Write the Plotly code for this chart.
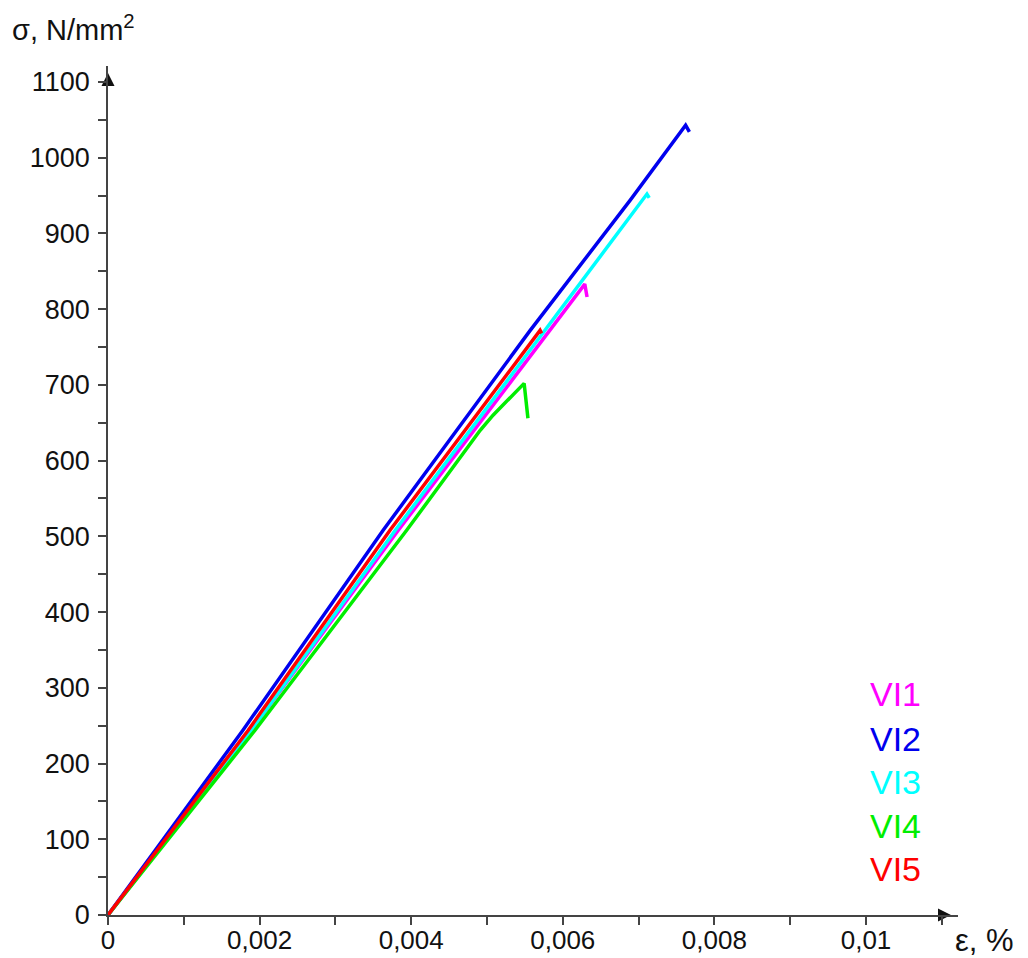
import plotly.graph_objects as go

# ---- data ----
series_names = ["VI1", "VI2", "VI3", "VI4", "VI5"]
series_colors = ["#ff00ff", "#0000ee", "#00ffff", "#00ee00", "#ff0000"]

strain_vi1 = [0, 0.00189, 0.00383, 0.00583, 0.00629, 0.00632]
stress_vi1 = [0, 244, 508, 772, 833, 816]

strain_vi2 = [0, 0.00178, 0.00363, 0.00557, 0.00689, 0.00762, 0.00767]
stress_vi2 = [0, 244, 508, 772, 944, 1043, 1034]

strain_vi3 = [0, 0.00189, 0.00379, 0.00577, 0.00711, 0.00714]
stress_vi3 = [0, 244, 508, 772, 952, 947]

strain_vi4 = [0, 0.00194, 0.00394, 0.00491, 0.00508, 0.00549, 0.00554]
stress_vi4 = [0, 244, 508, 640, 660, 702, 656]

strain_vi5 = [0, 0.00185, 0.00372, 0.00570, 0.00572]
stress_vi5 = [0, 244, 508, 772, 768]

x_tickvals = [0, 0.001, 0.002, 0.003, 0.004, 0.005, 0.006, 0.007, 0.008, 0.009, 0.01, 0.011]
x_ticktext = ["0", "", "0,002", "", "0,004", "", "0,006", "", "0,008", "", "0,01", ""]
y_tickvals = [0, 50, 100, 150, 200, 250, 300, 350, 400, 450, 500, 550, 600, 650,
              700, 750, 800, 850, 900, 950, 1000, 1050, 1100]
y_ticktext = ["0", "", "100", "", "200", "", "300", "", "400", "", "500", "", "600", "",
              "700", "", "800", "", "900", "", "1000", "", "1100"]

x_title = "ε, %"
y_title = "σ, N/mm<sup>2</sup>"

strains = [strain_vi1, strain_vi2, strain_vi3, strain_vi4, strain_vi5]
stresses = [stress_vi1, stress_vi2, stress_vi3, stress_vi4, stress_vi5]

# plot geometry
PLOT_L, PLOT_R, PLOT_T, PLOT_B = 108, 958, 66, 915
X_PER_PX = 0.001 / 75.8
Y_PER_PX = 100 / 75.73
X_MAX = (PLOT_R - PLOT_L) * X_PER_PX
Y_MAX = (PLOT_B - PLOT_T) * Y_PER_PX
FONT = "Liberation Sans, Arial, sans-serif"
AXIS_COLOR = "#444444"

fig = go.Figure()
for name, color, xs, ys in zip(series_names, series_colors, strains, stresses):
    fig.add_trace(go.Scatter(x=xs, y=ys, mode="lines", name=name,
                             line=dict(color=color, width=3.5), showlegend=False))

# axis arrowheads (markers at the ends of the axes)
fig.add_trace(go.Scatter(
    x=[X_MAX - 7 * X_PER_PX, 0], y=[0, Y_MAX - 7 * Y_PER_PX], mode="markers",
    marker=dict(symbol=["arrow-right", "arrow-up"], size=13, color="#111111",
                line=dict(width=0)),
    cliponaxis=False, showlegend=False, hoverinfo="skip"))

fig.update_layout(
    width=1028, height=958,
    margin=dict(l=PLOT_L, r=1028 - PLOT_R, t=PLOT_T, b=958 - PLOT_B, autoexpand=False),
    paper_bgcolor="white", plot_bgcolor="white",
    font=dict(family=FONT, size=24, color="#111111"),
    separators=", ",
)
fig.update_xaxes(
    range=[0, X_MAX], showgrid=False, zeroline=False, automargin=False,
    showline=True, linecolor=AXIS_COLOR, linewidth=1.5,
    ticks="outside", ticklen=8, tickwidth=1.5, tickcolor=AXIS_COLOR,
    tickvals=x_tickvals, ticktext=x_ticktext, ticklabelstandoff=-7,
    tickfont=dict(size=26, family=FONT, color="#111111"),
)
fig.update_yaxes(
    range=[0, Y_MAX], showgrid=False, zeroline=False, automargin=False,
    showline=True, linecolor=AXIS_COLOR, linewidth=1.5,
    ticks="outside", ticklen=8, tickwidth=1.5, tickcolor=AXIS_COLOR,
    tickvals=y_tickvals, ticktext=y_ticktext, ticklabelstandoff=3,
    tickfont=dict(size=27, family=FONT, color="#111111"),
)

# axis titles
fig.add_annotation(x=-0.115, y=1.045, xref="paper", yref="paper", text=y_title,
                   showarrow=False, xanchor="left", yanchor="middle",
                   font=dict(size=29, family=FONT, color="#111111"))
fig.add_annotation(x=0.994, y=-0.030, xref="paper", yref="paper", text=x_title,
                   showarrow=False, xanchor="left", yanchor="middle",
                   font=dict(size=31, family=FONT, color="#111111"))

# coloured legend labels
legend_y = [0.2603, 0.2073, 0.1567, 0.1049, 0.0542]
for name, color, ly in zip(series_names, series_colors, legend_y):
    fig.add_annotation(x=0.894, y=ly, xref="paper", yref="paper", text=name,
                       showarrow=False, xanchor="left", yanchor="middle",
                       font=dict(size=34, family=FONT, color=color))

fig.write_html("out.html", config={"responsive": False, "displayModeBar": False},
               post_script="document.body.style.margin='0';document.body.style.overflow='hidden';")
